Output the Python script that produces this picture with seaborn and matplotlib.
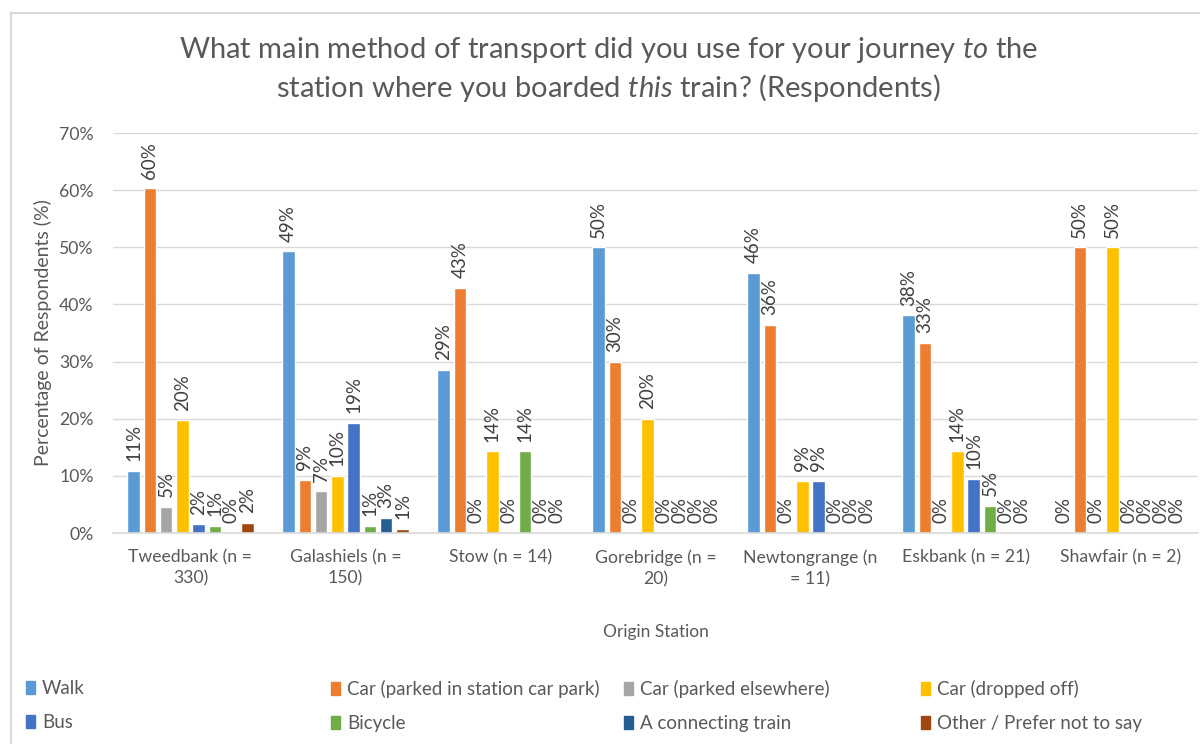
"""
Origin station vs. main transport mode to the station (respondents)
"""
import numpy as np
import pandas as pd
import matplotlib
matplotlib.use("Agg")
import matplotlib.pyplot as plt
from matplotlib.patches import Rectangle
import seaborn as sns

stations = ["Tweedbank (n =\n330)", "Galashiels (n =\n150)", "Stow (n = 14)",
            "Gorebridge (n =\n20)", "Newtongrange (n\n= 11)", "Eskbank (n = 21)",
            "Shawfair (n = 2)"]

modes = ["Walk", "Car (parked in station car park)", "Car (parked elsewhere)",
         "Car (dropped off)", "Bus", "Bicycle", "A connecting train",
         "Other / Prefer not to say"]

walk = [10.9, 49.3, 28.6, 50.0, 45.5, 38.1, 0.0]
car_station = [60.3, 9.3, 42.9, 30.0, 36.4, 33.3, 50.0]
car_elsewhere = [4.55, 7.3, 0.0, 0.0, 0.0, 0.0, 0.0]
car_dropped = [19.7, 10.0, 14.3, 20.0, 9.1, 14.3, 50.0]
bus = [1.5, 19.3, 0.0, 0.0, 9.1, 9.5, 0.0]
bicycle = [1.2, 1.3, 14.3, 0.0, 0.0, 4.8, 0.0]
connecting_train = [0.0, 2.7, 0.0, 0.0, 0.0, 0.0, 0.0]
other = [1.8, 0.7, 0.0, 0.0, 0.0, 0.0, 0.0]

colors = ["#5B9BD5", "#ED7D31", "#A5A5A5", "#FFC000",
          "#4472C4", "#70AD47", "#255E91", "#9E480E"]

series = [walk, car_station, car_elsewhere, car_dropped,
          bus, bicycle, connecting_train, other]

rows = []
for mode, vals in zip(modes, series):
    for st, v in zip(stations, vals):
        rows.append({"station": st, "mode": mode, "pct": v})
df = pd.DataFrame(rows)

sns.set_theme(style="white")
plt.rcParams["font.family"] = ["Lato", "DejaVu Sans"]
plt.rcParams["mathtext.fontset"] = "custom"
plt.rcParams["mathtext.rm"] = "Lato"
plt.rcParams["mathtext.it"] = "Lato:italic"

TXT = "#595959"

fig = plt.figure(figsize=(12, 7.44), dpi=100)
ax = fig.add_axes([113 / 1200, 1 - 533 / 744, 1085 / 1200, 400 / 744])

sns.barplot(data=df, x="station", y="pct", hue="mode", hue_order=modes,
            order=stations, palette=colors, errorbar=None, width=0.84,
            gap=0.24, saturation=1, ax=ax)

for cont in ax.containers:
    labels = [f"{int(np.floor(b.get_height() + 0.5))}%" for b in cont]
    ax.bar_label(cont, labels=labels, rotation=90, padding=7,
                 fontsize=13.5, color="#404040")

ax.set_ylim(0, 70)
ax.set_xlim(-0.5, 6.5)
ax.set_yticks(range(0, 71, 10))
ax.set_yticklabels([f"{t}%" for t in range(0, 71, 10)])
ax.grid(axis="y", color="#D9D9D9", linewidth=1)
ax.set_axisbelow(True)
for s in ["top", "right", "left"]:
    ax.spines[s].set_visible(False)
ax.spines["bottom"].set_color("#D9D9D9")
ax.spines["bottom"].set_linewidth(1.2)
ax.tick_params(axis="x", length=0, labelsize=12.7, colors=TXT, pad=12)
ax.tick_params(axis="y", length=0, labelsize=12.7, colors=TXT, pad=14)
for t in ax.get_xticklabels():
    t.set_linespacing(1.35)
ax.set_xlabel("Origin Station", fontsize=12.5, color=TXT, labelpad=27)
ax.set_ylabel("Percentage of Respondents (%)", fontsize=14, color=TXT,
              labelpad=5)

ax.get_legend().remove()

# title, two lines with italic words
fig.text(0.507, 1 - 50 / 744,
         r"What main method of transport did you use for your journey $\it{to}$ the",
         ha="center", va="center", fontsize=21, color=TXT)
fig.text(0.507, 1 - 88 / 744,
         r"station where you boarded $\it{this}$ train? (Respondents)",
         ha="center", va="center", fontsize=21, color=TXT)

# legend: 4 columns of 2 entries
col_x = [26 / 1200, 331 / 1200, 624 / 1200, 921 / 1200]
for i, x in enumerate(col_x):
    idx = [i, i + 4]
    handles = [Rectangle((0, 0), 1, 1, color=colors[j]) for j in idx]
    fig.legend(handles, [modes[j] for j in idx], loc="upper left",
               bbox_to_anchor=(x, 1 - 680 / 744), frameon=False,
               fontsize=13.5, labelcolor=TXT, borderpad=0, borderaxespad=0,
               handlelength=0.5, handleheight=0.65, handletextpad=0.35,
               labelspacing=0.9)

# chart border
fig.add_artist(Rectangle((11 / 1200, -0.05), 1.2, 1 - 13 / 744 + 0.05,
                         transform=fig.transFigure, fill=False,
                         edgecolor="#D9D9D9", linewidth=1.5))

fig.savefig("out.png", dpi=100)
